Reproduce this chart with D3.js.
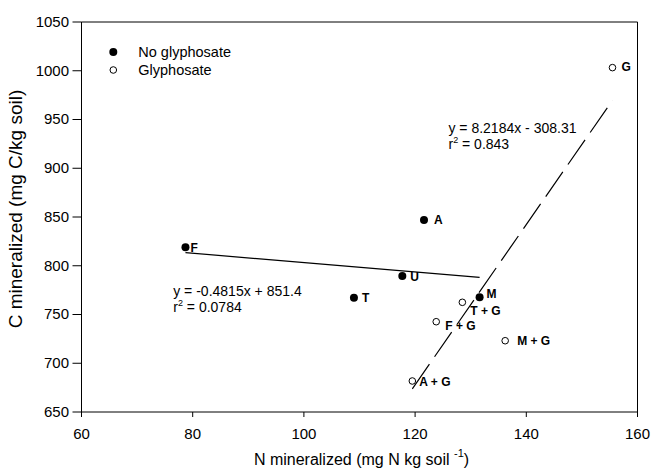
<!DOCTYPE html>
<html>
<head>
<meta charset="utf-8">
<script src="https://cdn.jsdelivr.net/npm/d3@7"></script>
<style>
  html, body { margin: 0; padding: 0; background: #fff; }
  text { font-family: "Liberation Sans", Arial, sans-serif; fill: #000; }
</style>
</head>
<body>
<script>
// ---------- data ----------
const noGlyLabels = ["F", "T", "U", "A", "M"];
const noGlyN = [78.7, 109.0, 117.7, 121.6, 131.6];
const noGlyC = [819.0, 767.2, 789.5, 847.0, 767.6];

const glyLabels = ["A + G", "F + G", "T + G", "M + G", "G"];
const glyN = [119.5, 123.8, 128.5, 136.2, 155.5];
const glyC = [681.8, 742.6, 762.5, 723.1, 1003.2];

// regression fits [slope, intercept]
const fitNoGly = [-0.4815, 851.4];
const fitGly = [8.2184, -308.31];
const eqNoGly = ["y = -0.4815x + 851.4", "0.0784"];
const eqGly = ["y = 8.2184x - 308.31", "0.843"];

const xTicks = [60, 80, 100, 120, 140, 160];
const yTicks = [650, 700, 750, 800, 850, 900, 950, 1000, 1050];
const legendLabels = ["No glyphosate", "Glyphosate"];

// ---------- layout ----------
const W = 651, H = 472;
const svg = d3.select("body").append("svg").attr("width", W).attr("height", H);

const x = d3.scaleLinear().domain([60, 160]).range([81.5, 637.5]);
const y = d3.scaleLinear().domain([650, 1050]).range([412, 22]);

// label offsets (px) for point labels
const noGlyOff = [[5, 0], [8, 0], [8, 1], [10, 0], [7, -4]];
const glyOff = [[7, 1], [9, 4], [8, 8], [12, 0], [9, -1]];

// frame
const frame = svg.append("g").attr("fill", "none");
frame.append("line").attr("x1", x(60)).attr("x2", x(160)).attr("y1", y(1050)).attr("y2", y(1050)).attr("stroke", "#000");
frame.append("line").attr("x1", x(60)).attr("x2", x(160)).attr("y1", y(650)).attr("y2", y(650)).attr("stroke", "#000");
frame.append("line").attr("x1", x(60)).attr("x2", x(60)).attr("y1", y(1050)).attr("y2", y(650) + 4).attr("stroke", "#000");
frame.append("line").attr("x1", x(160)).attr("x2", x(160)).attr("y1", y(1050)).attr("y2", y(650)).attr("stroke", "#000");

// axes
const yAxis = d3.axisLeft(y).tickValues(yTicks).tickSize(9).tickPadding(3.5).offset(0).tickFormat(d3.format("d"));
const gy = svg.append("g").attr("transform", `translate(${x(60)},0)`).call(yAxis);
gy.select(".domain").remove();
gy.selectAll(".tick line").attr("stroke", "#000");
gy.selectAll(".tick text").attr("font-size", 15).attr("font-family", "Liberation Sans, Arial, sans-serif").attr("fill", "#000");

const xAxis = d3.axisBottom(x).tickValues(xTicks).tickSize(5).tickPadding(11).offset(0).tickFormat(d3.format("d"));
const gx = svg.append("g").attr("transform", `translate(0,${y(650)})`).call(xAxis);
gx.select(".domain").remove();
gx.selectAll(".tick line").attr("stroke", "#000");
gx.selectAll(".tick text").attr("font-size", 15).attr("font-family", "Liberation Sans, Arial, sans-serif").attr("fill", "#000");

// axis titles
const xt = svg.append("text").attr("x", (x(60) + x(160)) / 2 + 2).attr("y", 465)
  .attr("text-anchor", "middle").attr("font-size", 16);
xt.append("tspan").text("N mineralized (mg N kg soil ");
xt.append("tspan").attr("font-size", 11).attr("dy", -8).text("-1");
xt.append("tspan").attr("dy", 8).text(")");

svg.append("text").attr("transform", `translate(22,${(y(650) + y(1050)) / 2 - 8}) rotate(-90)`)
  .attr("text-anchor", "middle").attr("font-size", 19)
  .text("C mineralized (mg C/kg soil)");

// regression lines
const line = d3.line().x(d => x(d[0])).y(d => y(d[1]));
const nx = d3.extent(noGlyN);
svg.append("path")
  .attr("d", line(nx.map(v => [v, fitNoGly[0] * v + fitNoGly[1]])))
  .attr("stroke", "#000").attr("stroke-width", 1.2).attr("fill", "none");
const gxr = d3.extent(glyN);
svg.append("path")
  .attr("d", line(gxr.map(v => [v, fitGly[0] * v + fitGly[1]])))
  .attr("stroke", "#000").attr("stroke-width", 1.2).attr("fill", "none")
  .attr("stroke-dasharray", "30,9");

// points
svg.append("g").selectAll("circle").data(noGlyN).join("circle")
  .attr("cx", d => x(d)).attr("cy", (d, i) => y(noGlyC[i])).attr("r", 4).attr("fill", "#000");
svg.append("g").selectAll("circle").data(glyN).join("circle")
  .attr("cx", d => x(d)).attr("cy", (d, i) => y(glyC[i])).attr("r", 3.3)
  .attr("fill", "#fff").attr("stroke", "#000").attr("stroke-width", 1);

// point labels
svg.append("g").selectAll("text").data(noGlyLabels).join("text")
  .attr("x", (d, i) => x(noGlyN[i]) + noGlyOff[i][0])
  .attr("y", (d, i) => y(noGlyC[i]) + noGlyOff[i][1])
  .attr("dy", "0.36em").attr("font-size", 12).attr("font-weight", "bold").text(d => d);
svg.append("g").selectAll("text").data(glyLabels).join("text")
  .attr("x", (d, i) => x(glyN[i]) + glyOff[i][0])
  .attr("y", (d, i) => y(glyC[i]) + glyOff[i][1])
  .attr("dy", "0.36em").attr("font-size", 12).attr("font-weight", "bold").text(d => d);

// equations
function equation(px, py, eq) {
  const g = svg.append("g");
  g.append("text").attr("x", px).attr("y", py).attr("font-size", 14).text(eq[0]);
  const t = g.append("text").attr("x", px).attr("y", py + 16).attr("font-size", 14);
  t.append("tspan").text("r");
  t.append("tspan").attr("font-size", 9).attr("dy", -6).text("2");
  t.append("tspan").attr("dy", 6).text(" = " + eq[1]);
}
equation(x(76.5), y(768.5), eqNoGly);
equation(x(126.0), y(936.5), eqGly);

// legend
const lg = svg.append("g");
lg.append("circle").attr("cx", 113.3).attr("cy", 52).attr("r", 4).attr("fill", "#000");
lg.append("circle").attr("cx", 113.3).attr("cy", 70).attr("r", 3.3).attr("fill", "#fff").attr("stroke", "#000");
lg.selectAll("text").data(legendLabels).join("text")
  .attr("x", 138.3).attr("y", (d, i) => 52 + i * 18).attr("dy", "0.36em")
  .attr("font-size", 14.5).text(d => d);
</script>
</body>
</html>
